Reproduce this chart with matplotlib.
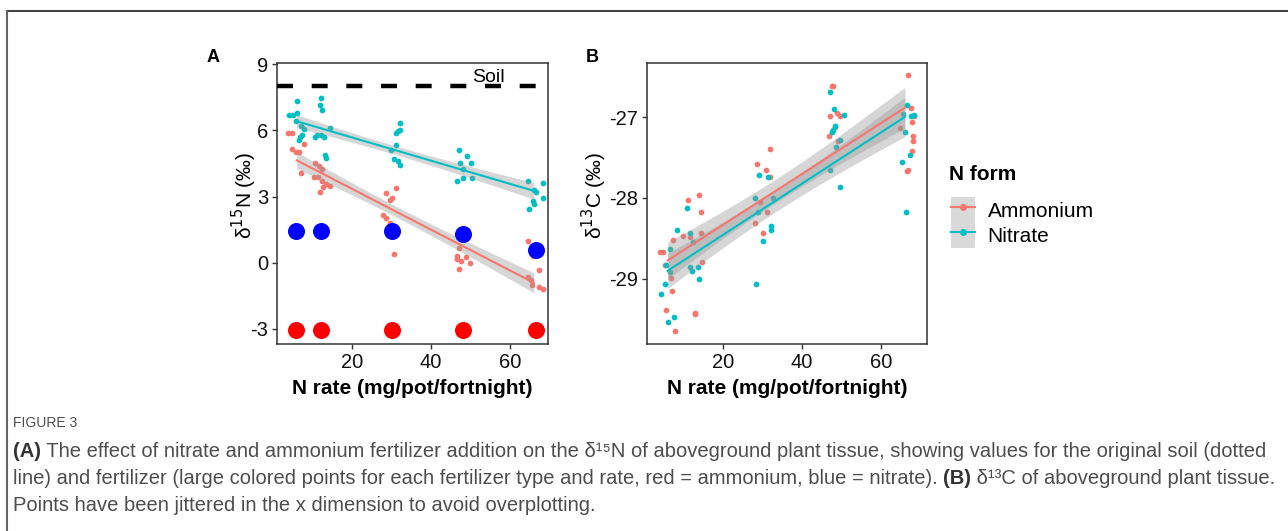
import matplotlib
matplotlib.use("Agg")
import numpy as np
from matplotlib import pyplot as plt
from matplotlib.lines import Line2D
from matplotlib.patches import Patch

plt.rcParams["font.family"] = ["Liberation Sans", "DejaVu Sans"]
plt.rcParams["axes.unicode_minus"] = False

RED = "#F8766D"
TEAL = "#00BFC4"

rates = [6, 12, 30, 48, 66]

# panel A: d15N of plant tissue (jittered x)
a_nh4_x = [3.9, 4.8, 4.7, 5.7, 6.6, 7.1, 7.9,
           10.5, 11.6, 12.5, 10.3, 11.4, 12.3, 13.5, 12.7, 11.8, 14.3,
           28.7, 30.0, 29.7, 31.1, 27.8, 28.7, 29.5, 30.5,
           47.1, 46.5, 47.5, 48.8, 49.9, 47.1, 46.6,
           64.6, 67.4, 64.6, 65.3, 65.6, 67.2, 68.4, 65.8]
a_nh4_y = [5.9, 5.9, 5.15, 5.0, 5.0, 4.05, 5.4,
           4.5, 4.4, 4.25, 3.9, 3.9, 3.7, 3.55, 3.45, 3.2, 3.5,
           3.15, 2.95, 2.85, 3.4, 2.15, 2.05, 1.8, 0.4,
           0.65, 0.3, 0.1, 0.25, 0.0, -0.3, 0.15,
           1.0, -0.35, -0.65, -0.8, -1.0, -1.1, -1.2, 0.3]
a_no3_x = [4.0, 5.1, 6.1, 6.1, 5.7, 6.8, 7.2, 7.4, 6.6, 7.8,
           12.1, 12.0, 12.4, 10.5, 12.2, 12.9, 13.1, 13.5, 14.3, 11.0,
           32.1, 31.6, 32.2, 31.2, 29.8, 30.6, 31.6, 32.2, 31.0,
           47.1, 49.0, 47.2, 50.0, 48.2, 46.5, 48.2, 50.3,
           64.5, 68.4, 66.1, 66.6, 68.4, 65.7, 66.0, 64.8]
a_no3_y = [6.7, 6.7, 6.8, 7.35, 6.4, 5.7, 6.2, 5.8, 5.55, 6.05,
           7.45, 7.15, 6.9, 5.7, 5.8, 5.7, 4.9, 4.75, 6.1, 5.8,
           6.35, 5.95, 6.0, 5.35, 5.1, 4.7, 4.6, 4.45, 5.9,
           5.1, 4.85, 4.5, 4.5, 4.25, 3.7, 3.85, 3.85,
           3.7, 3.6, 3.3, 3.2, 2.95, 2.8, 2.65, 2.45]

# fertilizer d15N and soil d15N
fert_x = [5.7, 12.1, 30.0, 48.1, 66.5]
fert_nh4 = [-3.05, -3.05, -3.05, -3.05, -3.05]
fert_no3 = [1.45, 1.45, 1.45, 1.3, 0.6]
soil_d15n = 8.0

# panel B: d13C of plant tissue
b_nh4_x = [4.1, 4.7, 5.2, 7.3, 5.6, 7.0, 6.9, 7.9, 9.8,
           11.1, 13.8, 14.4, 11.6, 14.4, 14.6, 12.9, 13.0,
           28.6, 30.8, 32.0, 32.0, 28.1, 30.2, 31.2, 29.3,
           47.5, 47.8, 47.1, 48.8, 49.5, 48.4, 46.9, 49.2,
           66.9, 67.5, 68.2, 67.8, 68.0, 68.1, 67.8, 66.9, 66.6, 64.8]
b_nh4_y = [-28.67, -28.67, -28.83, -28.52, -29.39, -29.15, -28.99, -29.65, -28.47,
           -28.03, -27.96, -28.18, -28.48, -28.44, -28.8, -29.44, -29.42,
           -27.58, -27.65, -27.39, -27.74, -28.31, -28.44, -28.17, -28.05,
           -26.62, -26.62, -26.99, -26.95, -26.99, -27.12, -27.24, -27.29,
           -26.48, -26.89, -26.99, -27.06, -27.23, -27.3, -27.42, -27.65, -27.67, -27.14]
b_no3_x = [4.2, 5.3, 6.15, 7.7, 6.6, 5.6, 6.6, 8.3,
           10.8, 11.6, 12.5, 11.6, 12.1, 13.75, 14.0,
           28.4, 28.1, 30.0, 32.1, 32.1, 28.9, 32.7, 29.2, 31.4,
           47.1, 48.1, 50.5, 48.4, 47.8, 47.5, 49.6, 48.6, 47.1, 49.6,
           66.5, 67.5, 68.3, 65.5, 66.1, 67.2, 65.2, 66.3]
b_no3_y = [-29.19, -29.07, -29.54, -29.47, -28.63, -28.83, -28.92, -28.4,
           -28.13, -28.43, -28.55, -28.86, -28.9, -28.86, -29.01,
           -29.07, -28.0, -28.54, -28.35, -28.4, -28.17, -28.0, -27.72, -27.74,
           -26.69, -26.9, -26.98, -27.11, -27.16, -27.19, -27.28, -27.37, -27.65, -27.87,
           -26.85, -26.99, -26.97, -26.96, -27.18, -27.47, -27.56, -28.18]

legend_labels = ["Ammonium", "Nitrate"]


def nominal(xs):
    r = np.array(rates)
    return np.array([r[np.argmin(np.abs(r - v))] for v in xs])


def smooth(ax, xs, ys, color):
    # lm fit with 95% band, like geom_smooth(method = "lm")
    xn = nominal(xs)
    y = np.array(ys)
    b, a = np.polyfit(xn, y, 1)
    n = len(y)
    resid = y - (a + b * xn)
    s = np.sqrt(np.sum(resid ** 2) / (n - 2))
    sxx = np.sum((xn - xn.mean()) ** 2)
    grid = np.linspace(xn.min(), xn.max(), 80)
    fit = a + b * grid
    se = s * np.sqrt(1.0 / n + (grid - xn.mean()) ** 2 / sxx)
    ax.fill_between(grid, fit - 2.02 * se, fit + 2.02 * se, color="#999999",
                    alpha=0.4, lw=0, zorder=3)
    ax.plot(grid, fit, color=color, lw=1.5, zorder=4)


def style(ax):
    for sp in ax.spines.values():
        sp.set_linewidth(1.1)
        sp.set_color("#333333")
    ax.tick_params(direction="out", length=3.5, width=1, colors="#333333",
                   labelsize=14.5, labelcolor="#111111", pad=3)
    ax.set_xlabel("N rate (mg/pot/fortnight)", fontsize=15, fontweight="bold",
                  labelpad=5)


fig = plt.figure(figsize=(12.88, 5.31), dpi=100)

axA = fig.add_axes([277 / 1288, 1 - 344 / 531, 271 / 1288, 281 / 531])
axA.scatter(a_nh4_x, a_nh4_y, s=17, color=RED, lw=0, zorder=2)
axA.scatter(a_no3_x, a_no3_y, s=17, color=TEAL, lw=0, zorder=2)
smooth(axA, a_nh4_x, a_nh4_y, RED)
smooth(axA, a_no3_x, a_no3_y, TEAL)
axA.axhline(soil_d15n, color="black", lw=3.2, dashes=(3.6, 4.2), zorder=5)
axA.text(54.4, 8.38, "Soil", fontsize=14, ha="center", va="center", zorder=6)
axA.scatter(fert_x, fert_nh4, s=150, color="#FF0000", lw=0, zorder=7)
axA.scatter(fert_x, fert_no3, s=150, color="#0000FF", lw=0, zorder=7)
axA.set_xlim(1.0, 69.6)
axA.set_ylim(-3.68, 9.05)
axA.set_xticks([20, 40, 60])
axA.set_yticks([-3, 0, 3, 6, 9])
style(axA)
axA.set_ylabel(r"δ$^{15}$N (‰)", fontsize=15)
axA.yaxis.set_label_coords(-0.066, 0.53)

axB = fig.add_axes([647 / 1288, 1 - 344 / 531, 280 / 1288, 281 / 531])
axB.scatter(b_nh4_x, b_nh4_y, s=17, color=RED, lw=0, zorder=2)
axB.scatter(b_no3_x, b_no3_y, s=17, color=TEAL, lw=0, zorder=2)
smooth(axB, b_nh4_x, b_nh4_y, RED)
smooth(axB, b_no3_x, b_no3_y, TEAL)
axB.set_xlim(0.76, 71.6)
axB.set_ylim(-29.81, -26.33)
axB.set_xticks([20, 40, 60])
axB.set_yticks([-29, -28, -27])
style(axB)
axB.set_ylabel(r"δ$^{13}$C (‰)", fontsize=15)
axB.yaxis.set_label_coords(-0.136, 0.53)

fig.text(213 / 1288, 1 - 57 / 531, "A", fontsize=13, fontweight="bold",
         ha="center", va="center")
fig.text(592 / 1288, 1 - 57 / 531, "B", fontsize=13, fontweight="bold",
         ha="center", va="center")

# legend: title drawn separately, keys share one grey block
fig.text(949 / 1288, 1 - 174 / 531, "N form", fontsize=15, fontweight="bold",
         ha="left", va="center")
handles = [(Patch(facecolor="#d9d9d9", edgecolor="none"),
            Line2D([], [], color=c, lw=1.5, marker="o", ms=4))
           for c in (RED, TEAL)]
fig.legend(handles, legend_labels, loc="upper left",
           bbox_to_anchor=(951 / 1288, 1 - 197 / 531),
           frameon=False, fontsize=15, handlelength=1.15, handleheight=1.5,
           labelspacing=0, handletextpad=0.6, borderpad=0, borderaxespad=0)

# outer frame of the page
fig.add_artist(Line2D([7 / 1288, 1], [1 - 11 / 531] * 2, color="#444444", lw=1.5))
fig.add_artist(Line2D([7 / 1288] * 2, [0, 1 - 11 / 531], color="#666666", lw=1.5))

# caption
grey = "#4d4d4d"
fig.text(13 / 1288, 1 - 423 / 531, "FIGURE 3", fontsize=10, color=grey, va="center")

cap = fig.add_axes([0, 0, 1, 1], facecolor="none")
cap.set_axis_off()
cap_lines = [
    [("(A)", "bold"), (" The effect of nitrate and ammonium fertilizer addition on the δ¹⁵N of "
                       "aboveground plant tissue, showing values for the original soil (dotted", "normal")],
    [("line) and fertilizer (large colored points for each fertilizer type and rate, red = ammonium, "
      "blue = nitrate). ", "normal"), ("(B)", "bold"),
     (" δ¹³C of aboveground plant tissue.", "normal")],
    [("Points have been jittered in the x dimension to avoid overplotting.", "normal")],
]
cap_size = 14.5
for parts, yb in zip(cap_lines, [461, 488, 515]):
    prev = None
    for txt, w in parts:
        color = "#333333" if w == "bold" else grey
        if prev is None:
            prev = cap.text(13 / 1288, 1 - yb / 531, txt, fontsize=cap_size, color=color,
                            fontweight=w, va="bottom", ha="left")
        else:
            prev = cap.annotate(txt, xy=(1, 0), xycoords=prev, fontsize=cap_size,
                                color=color, fontweight=w, va="bottom", ha="left")

fig.savefig("out.png", dpi=100)
